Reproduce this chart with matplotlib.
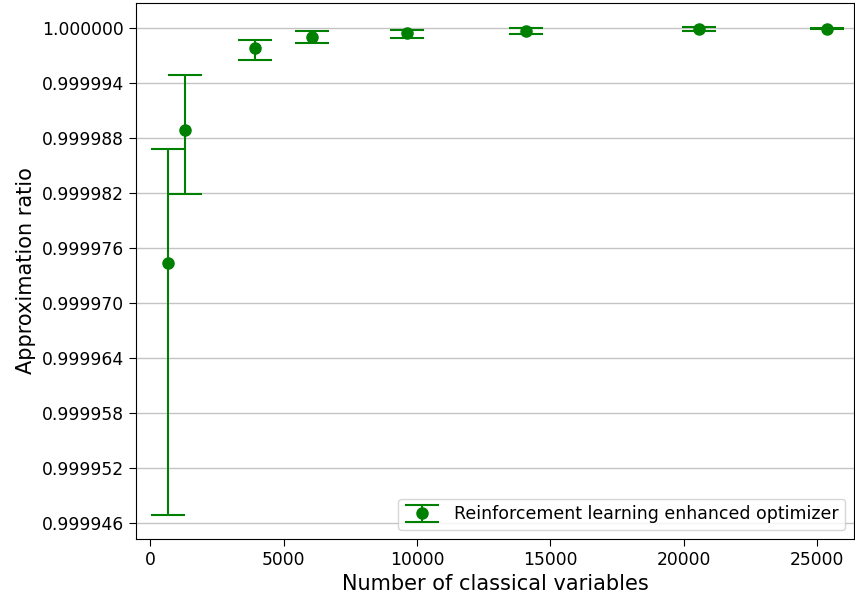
import matplotlib
matplotlib.use("Agg")
import matplotlib.pyplot as plt
import numpy as np

# data
n_vars = [675, 1286, 3936, 6072, 9644, 14093, 20566, 25375]
ratio = [0.99997435, 0.9999888, 0.99999775, 0.99999902, 0.99999942, 0.99999964, 0.99999986, 0.99999989]
err_low = [27.5e-6, 6.9e-6, 1.26e-6, 0.65e-6, 0.58e-6, 0.29e-6, 0.22e-6, 0.06e-6]
err_high = [12.4e-6, 6.0e-6, 0.87e-6, 0.65e-6, 0.36e-6, 0.33e-6, 0.18e-6, 0.06e-6]

fig = plt.figure(figsize=(8.55, 6.01), dpi=100)
ax = fig.add_axes([0.159, 0.103, 0.8398, 0.892])

ax.errorbar(n_vars, ratio, yerr=[err_low, err_high], fmt='o', color='green',
            markersize=8, capsize=12.5, elinewidth=1.5, capthick=1.5,
            label='Reinforcement learning enhanced optimizer')

ax.set_xlim(-536, 26390)
ax.set_yticks(np.arange(0.999946, 1.0000001, 0.000006))
ax.yaxis.set_major_formatter(matplotlib.ticker.FormatStrFormatter('%.6f'))
ax.grid(axis='y', color='#c4c4c4', linewidth=1)
ax.set_axisbelow(True)
ax.tick_params(labelsize=12.3, length=5)

ax.set_xlabel('Number of classical variables', fontsize=15)
ax.set_ylabel('Approximation ratio', fontsize=15)
ax.legend(loc='lower right', fontsize=12.5)

fig.savefig('out.png', dpi=100)
